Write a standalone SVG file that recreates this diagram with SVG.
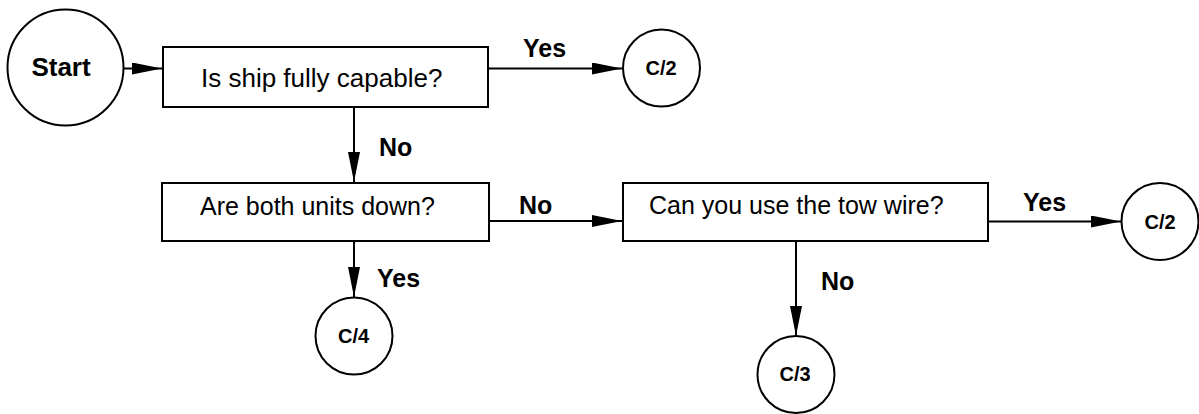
<svg xmlns="http://www.w3.org/2000/svg" width="1199" height="414" viewBox="0 0 1199 414">
  <defs>
    <marker id="arrow" viewBox="0 0 30 12" refX="30" refY="6" markerWidth="30" markerHeight="12" markerUnits="userSpaceOnUse" orient="auto">
      <path d="M0,0 L30,6 L0,12 Z" fill="#000"/>
    </marker>
  </defs>
  <style>
    .box { fill: #fff; stroke: #000; stroke-width: 2; }
    .term { fill: #fff; stroke: #000; stroke-width: 2; }
    .q { font-family: "Liberation Sans", Arial, sans-serif; font-size: 25px; fill: #000; }
    .lbl { font-family: "Liberation Sans", Arial, sans-serif; font-size: 25px; font-weight: bold; fill: #000; }
    .ref { font-family: "Liberation Sans", Arial, sans-serif; font-size: 20px; font-weight: bold; fill: #000; text-anchor: middle; }
    .start { font-family: "Liberation Sans", Arial, sans-serif; font-size: 26px; font-weight: bold; fill: #000; text-anchor: middle; }
    .edge { fill: none; stroke: #000; stroke-width: 2; marker-end: url(#arrow); }
  </style>
  <rect width="1199" height="414" fill="#fff"/>

  <!-- connectors -->
  <g id="connectors">
    <line class="edge" x1="124" y1="68.5" x2="162" y2="68.5"/>
    <line class="edge" x1="489" y1="68.5" x2="622" y2="68.5"/>
    <line class="edge" x1="354" y1="107" x2="354" y2="182"/>
    <line class="edge" x1="489" y1="221" x2="622" y2="221"/>
    <line class="edge" x1="354" y1="241" x2="354" y2="297"/>
    <line class="edge" x1="988" y1="221.5" x2="1121" y2="221.5"/>
    <line class="edge" x1="796" y1="241" x2="796" y2="336"/>
    <text class="lbl" x="523" y="57">Yes</text>
    <text class="lbl" x="379" y="156">No</text>
    <text class="lbl" x="519" y="214">No</text>
    <text class="lbl" x="377" y="287">Yes</text>
    <text class="lbl" x="1023" y="211">Yes</text>
    <text class="lbl" x="821" y="290">No</text>
  </g>

  <g id="start">
    <circle class="term" cx="65.5" cy="67.5" r="58"/>
    <text class="start" x="61" y="76">Start</text>
  </g>

  <g id="q-capable">
    <rect class="box" x="163" y="47" width="325" height="60"/>
    <text class="q" x="201" y="87" style="font-size:26px">Is ship fully capable?</text>
  </g>

  <g id="c2-top">
    <circle class="term" cx="661.5" cy="68" r="38.5"/>
    <text class="ref" x="661" y="75">C/2</text>
  </g>

  <g id="q-units">
    <rect class="box" x="162" y="183" width="327" height="58"/>
    <text class="q" x="200" y="215">Are both units down?</text>
  </g>

  <g id="c4">
    <circle class="term" cx="354" cy="336" r="38.5"/>
    <text class="ref" x="353.5" y="343">C/4</text>
  </g>

  <g id="q-towwire">
    <rect class="box" x="623" y="183" width="365" height="58"/>
    <text class="q" x="649" y="214">Can you use the tow wire?</text>
  </g>

  <g id="c2-right">
    <circle class="term" cx="1160" cy="221.5" r="38.5"/>
    <text class="ref" x="1160" y="228.5">C/2</text>
  </g>

  <g id="c3">
    <circle class="term" cx="796" cy="374.5" r="38.5"/>
    <text class="ref" x="795" y="381">C/3</text>
  </g>
</svg>
